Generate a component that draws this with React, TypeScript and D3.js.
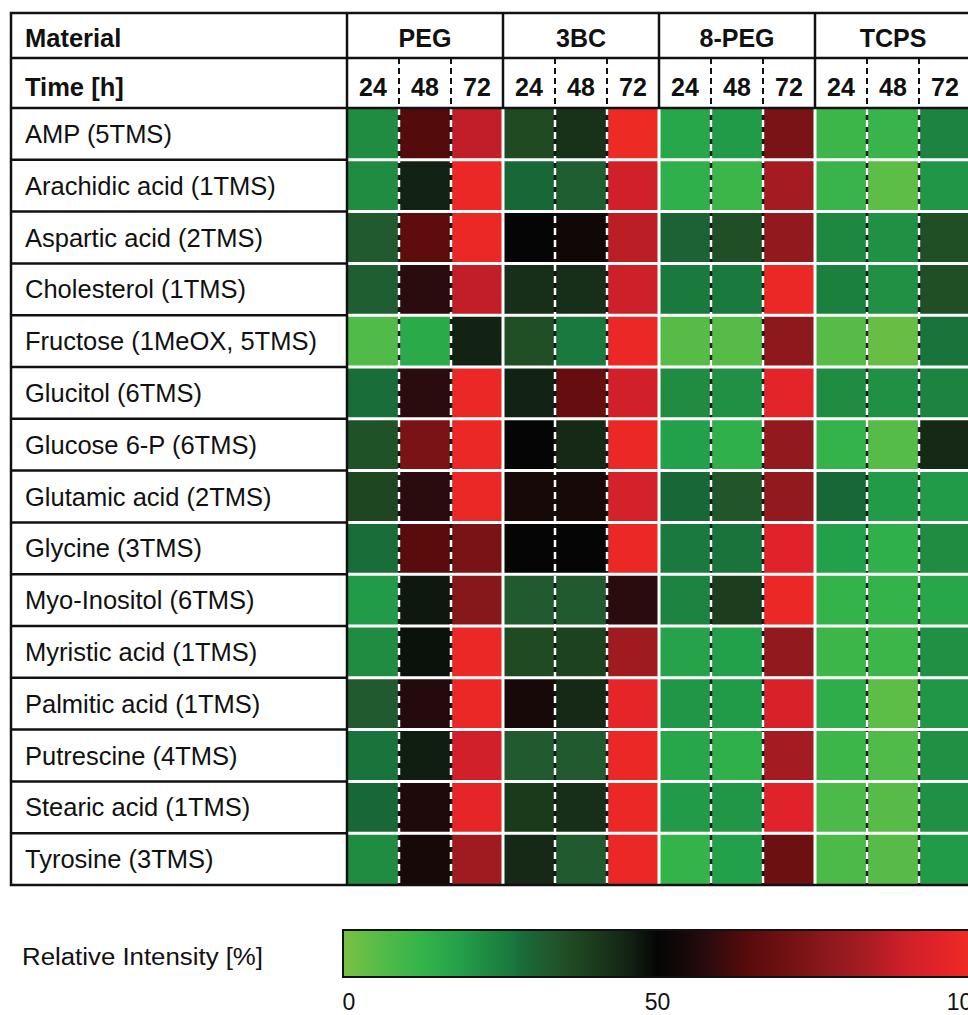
import React from "react";
import * as d3 from "d3";

const materials = ["PEG", "3BC", "8-PEG", "TCPS"];
const times = ["24", "48", "72"];
const metabolites = [
  "AMP (5TMS)",
  "Arachidic acid (1TMS)",
  "Aspartic acid (2TMS)",
  "Cholesterol (1TMS)",
  "Fructose (1MeOX, 5TMS)",
  "Glucitol (6TMS)",
  "Glucose 6-P (6TMS)",
  "Glutamic acid (2TMS)",
  "Glycine (3TMS)",
  "Myo-Inositol (6TMS)",
  "Myristic acid (1TMS)",
  "Palmitic acid (1TMS)",
  "Putrescine (4TMS)",
  "Stearic acid (1TMS)",
  "Tyrosine (3TMS)",
];

// relative intensity [%], columns: PEG 24/48/72, 3BC 24/48/72, 8-PEG 24/48/72, TCPS 24/48/72
const intensity: number[][] = [
  [22, 64, 88, 36, 42, 100, 16, 19, 73, 10, 11, 24],
  [22, 45, 99, 29, 31, 91, 13, 10, 83, 11, 4, 20],
  [32, 66, 99, 50, 53, 87, 30, 35, 79, 23, 21, 35],
  [31, 58, 88, 43, 43, 90, 26, 26, 99, 25, 21, 35],
  [6, 15, 45, 35, 26, 99, 5, 5, 78, 5, 2, 27],
  [28, 58, 99, 45, 68, 91, 22, 21, 96, 22, 21, 24],
  [34, 73, 99, 50, 44, 99, 18, 13, 79, 12, 5, 44],
  [37, 58, 99, 55, 55, 92, 29, 33, 79, 29, 19, 19],
  [28, 65, 73, 50, 50, 99, 26, 27, 95, 18, 13, 22],
  [19, 47, 76, 32, 32, 58, 24, 39, 99, 12, 12, 16],
  [22, 48, 99, 36, 38, 82, 17, 18, 79, 10, 10, 21],
  [32, 57, 99, 55, 44, 97, 20, 19, 93, 14, 4, 20],
  [27, 46, 91, 32, 32, 99, 16, 13, 83, 10, 6, 21],
  [29, 56, 97, 40, 43, 99, 19, 20, 95, 7, 5, 21],
  [22, 55, 82, 44, 32, 99, 12, 18, 70, 7, 5, 19],
];

const legendTicks = [0, 50, 100];

const colorStops: [number, string][] = [
  [0, "#74c044"],
  [6, "#50bb48"],
  [12, "#33b34a"],
  [18, "#23a04a"],
  [22, "#1f8c42"],
  [26, "#1a7a3d"],
  [29, "#186737"],
  [32, "#215a2e"],
  [36, "#1f4a22"],
  [43, "#172e18"],
  [47, "#0e180e"],
  [50, "#050505"],
  [55, "#180909"],
  [58, "#2a0b0e"],
  [65, "#5a0b0b"],
  [72, "#751214"],
  [79, "#921a1e"],
  [84, "#a81c22"],
  [89, "#c91f28"],
  [95, "#e0222a"],
  [100, "#ee2a24"],
];

const FONT = "'Liberation Sans', Arial, Helvetica, sans-serif";

export default function App() {
  const W = 968;
  const H = 1015;
  const left = 11;
  const top = 13;
  const labelRight = 347;
  const gridRight = 971;
  const h1Bottom = 58;
  const h2Bottom = 108;
  const bottom = 885;

  const color = d3
    .scaleLinear<string>()
    .domain(colorStops.map((d) => d[0]))
    .range(colorStops.map((d) => d[1]))
    .interpolate(d3.interpolateRgb)
    .clamp(true);

  const colKeys = materials.flatMap((m) => times.map((t) => `${m}|${t}`));
  const x = d3.scaleBand<string>().domain(colKeys).range([labelRight, gridRight]);
  const xg = d3.scaleBand<string>().domain(materials).range([labelRight, gridRight]);
  const y = d3.scaleBand<string>().domain(metabolites).range([h2Bottom, bottom]);

  const legX = d3.scaleLinear().domain([0, 100]).range([349, 966]);
  const barLeft = 343;
  const barRight = 973;
  const barTop = 930;
  const barBottom = 977;

  const gradStops = d3.range(0, 101, 2).map((v) => ({
    off: ((legX(v) - barLeft) / (barRight - barLeft)) * 100,
    c: color(v),
  }));

  const rowBounds = metabolites.slice(1).map((m) => y(m)!);
  const groupBounds = materials.slice(1).map((m) => xg(m)!);
  const subBounds = materials.flatMap((m) =>
    times.slice(1).map((t) => x(`${m}|${t}`)!)
  );

  return (
    <svg
      width={W}
      height={H}
      style={{ position: "absolute", left: 0, top: 0, background: "#fff" }}
      fontFamily={FONT}
    >
      <defs>
        <linearGradient id="lg" x1="0" x2="1" y1="0" y2="0">
          <stop offset="0%" stopColor={color(0)} />
          {gradStops.map((s, i) => (
            <stop key={i} offset={`${Math.max(0, Math.min(100, s.off))}%`} stopColor={s.c} />
          ))}
          <stop offset="100%" stopColor={color(100)} />
        </linearGradient>
      </defs>

      {/* cells */}
      {metabolites.map((m, ri) =>
        colKeys.map((k, ci) => (
          <rect
            key={`${ri}-${ci}`}
            x={x(k)!}
            y={y(m)!}
            width={x.bandwidth()}
            height={y.bandwidth()}
            fill={color(intensity[ri][ci])}
          />
        ))
      )}

      {/* sub column dashed separators in heatmap */}
      {subBounds.map((xx, i) => (
        <g key={`sd${i}`}>
          <line x1={xx} x2={xx} y1={h2Bottom} y2={bottom} stroke="#111" strokeWidth={2.5} opacity={0.85} />
          <line x1={xx} x2={xx} y1={h2Bottom} y2={bottom} stroke="#fff" strokeWidth={2.5} strokeDasharray="7,5" />
        </g>
      ))}
      {/* white row separators in heatmap */}
      {rowBounds.map((yy, i) => (
        <line key={`wr${i}`} x1={labelRight} x2={gridRight} y1={yy} y2={yy} stroke="#fff" strokeWidth={3} />
      ))}
      {/* group separators in heatmap */}
      {groupBounds.map((xx, i) => (
        <line key={`gs${i}`} x1={xx} x2={xx} y1={h2Bottom} y2={bottom} stroke="#fff" strokeWidth={3} />
      ))}

      {/* black grid: label column rows */}
      {rowBounds.map((yy, i) => (
        <line key={`br${i}`} x1={left} x2={labelRight} y1={yy} y2={yy} stroke="#111" strokeWidth={2.5} />
      ))}
      {/* header lines */}
      <line x1={left} x2={gridRight} y1={h1Bottom} y2={h1Bottom} stroke="#111" strokeWidth={2.5} />
      <line x1={left} x2={gridRight} y1={h2Bottom} y2={h2Bottom} stroke="#111" strokeWidth={2.5} />
      {groupBounds.map((xx, i) => (
        <line key={`hg${i}`} x1={xx} x2={xx} y1={top} y2={h2Bottom} stroke="#111" strokeWidth={2.5} />
      ))}
      {subBounds.map((xx, i) => (
        <line key={`hs${i}`} x1={xx} x2={xx} y1={h1Bottom} y2={h2Bottom} stroke="#111" strokeWidth={2} strokeDasharray="6,4" />
      ))}
      <line x1={labelRight} x2={labelRight} y1={top} y2={bottom} stroke="#111" strokeWidth={2.5} />
      <rect x={left} y={top} width={gridRight - left} height={bottom - top} fill="none" stroke="#111" strokeWidth={2.5} />

      {/* header texts */}
      <text x={25} y={47} fontSize={25.5} fontWeight="bold" fill="#111">Material</text>
      <text x={25} y={96} fontSize={25.5} fontWeight="bold" fill="#111">Time [h]</text>
      {materials.map((m) => (
        <text key={m} x={xg(m)! + xg.bandwidth() / 2} y={47} fontSize={25} fontWeight="bold" fill="#111" textAnchor="middle">
          {m}
        </text>
      ))}
      {colKeys.map((k) => (
        <text key={k} x={x(k)! + x.bandwidth() / 2} y={96} fontSize={25} fontWeight="bold" fill="#111" textAnchor="middle">
          {k.split("|")[1]}
        </text>
      ))}

      {/* row labels */}
      {metabolites.map((m) => (
        <text key={m} x={25} y={y(m)! + y.bandwidth() / 2 + 9} fontSize={25.5} fill="#111">
          {m}
        </text>
      ))}

      {/* legend */}
      <text x={22} y={965} fontSize={23.5} fill="#111" textLength={241} lengthAdjust="spacingAndGlyphs">
        Relative Intensity [%]
      </text>
      <rect x={barLeft} y={barTop} width={barRight - barLeft} height={barBottom - barTop} fill="url(#lg)" stroke="#111" strokeWidth={2} />
      {legendTicks.map((t) => (
        <text key={t} x={legX(t)} y={1010} fontSize={23} fill="#111" textAnchor="middle">
          {t}
        </text>
      ))}
    </svg>
  );
}
